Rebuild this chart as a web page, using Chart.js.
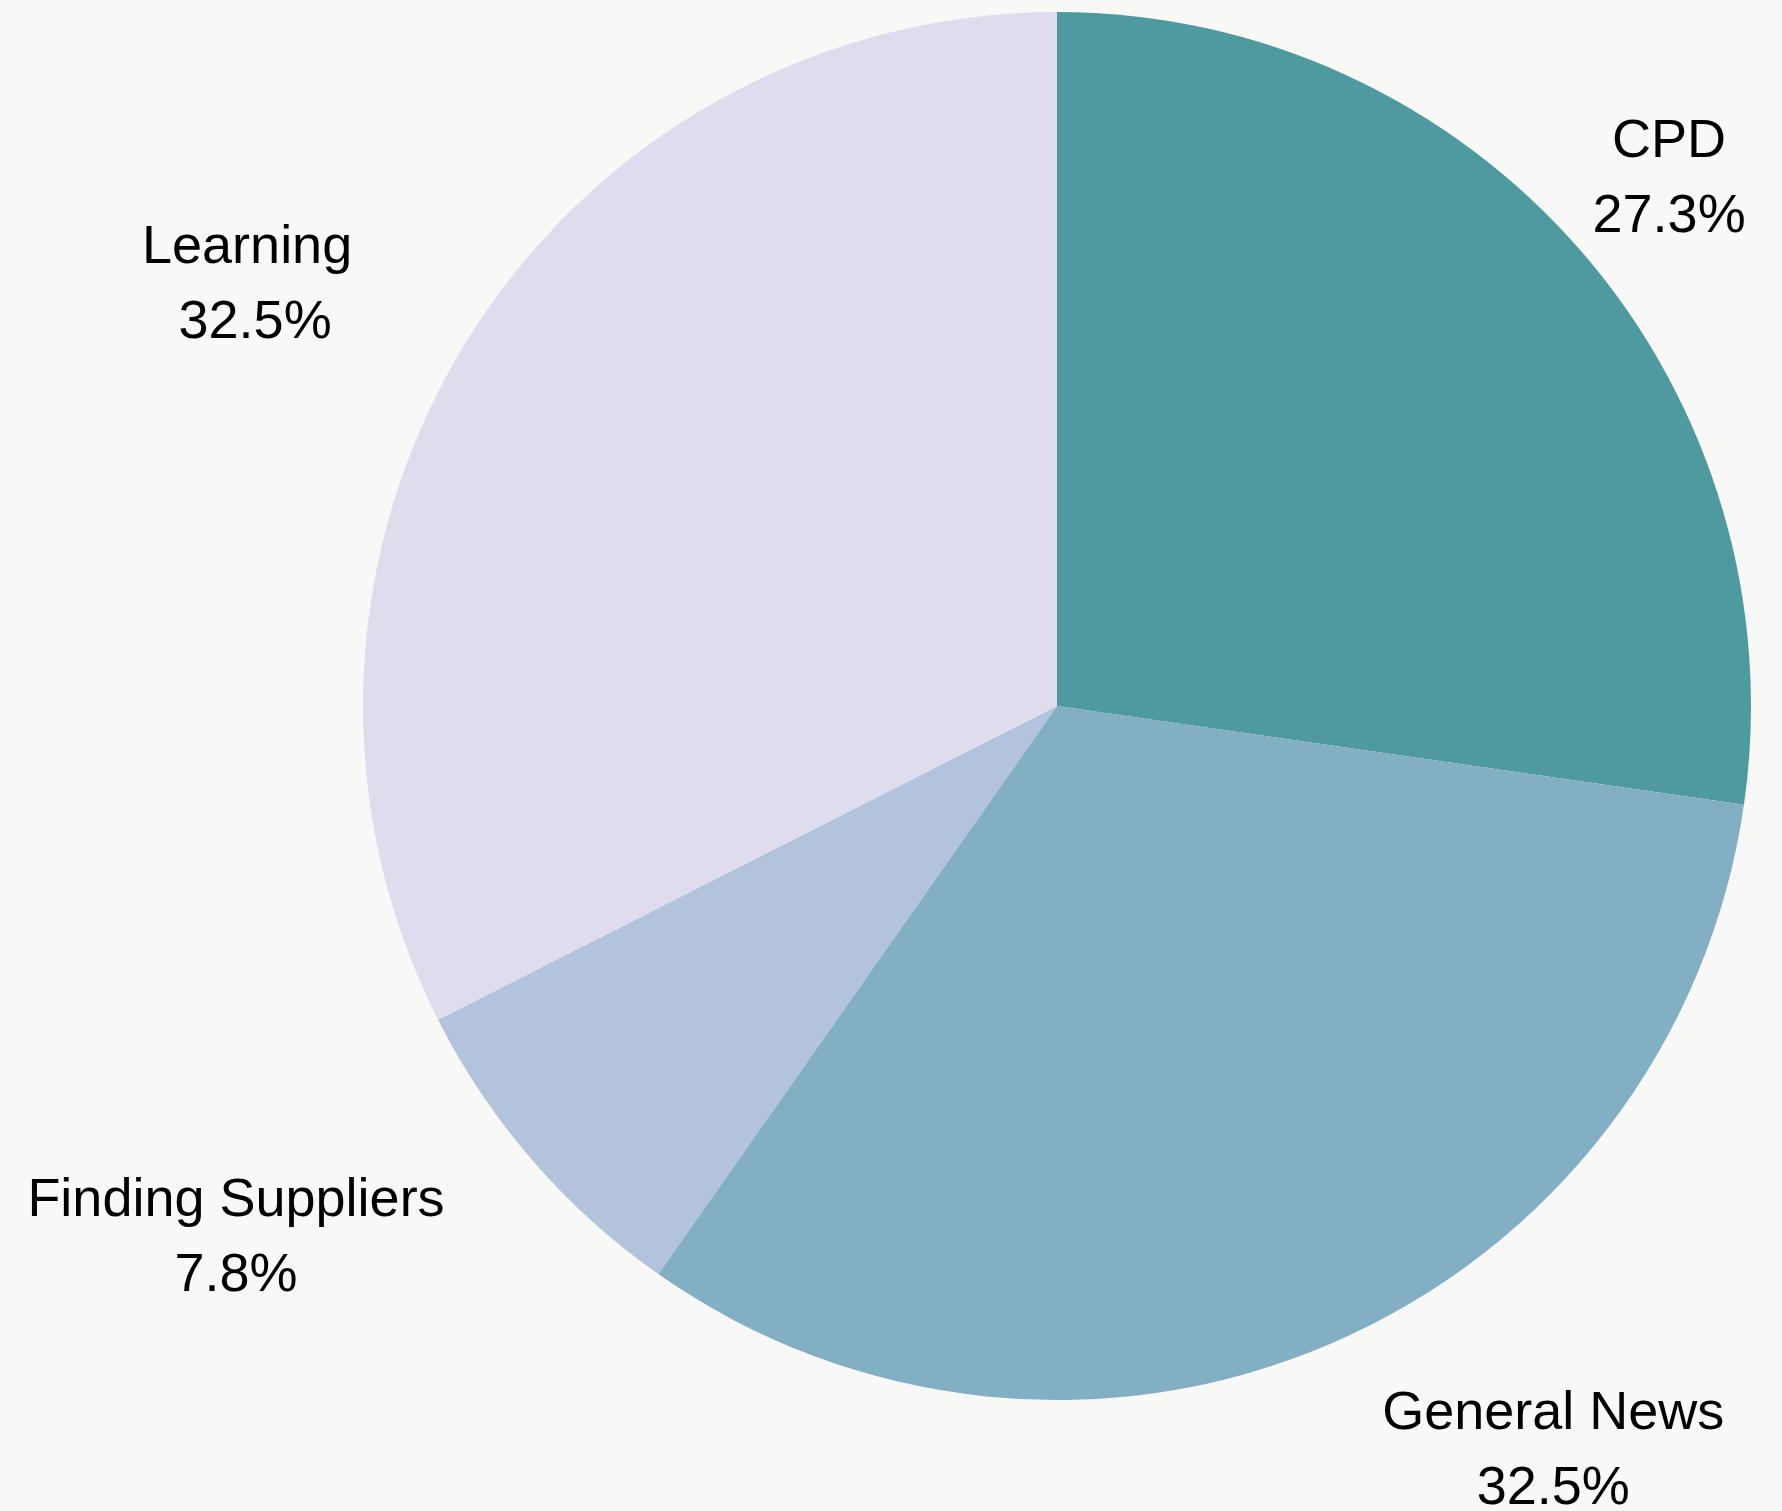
<!DOCTYPE html>
<html>
<head>
<meta charset="utf-8">
<script src="https://cdn.jsdelivr.net/npm/chart.js@4.4.0/dist/chart.umd.min.js"></script>
<style>
  html, body { margin: 0; padding: 0; background: #f8f8f6; }
  #wrap { width: 1782px; height: 1511px; }
</style>
</head>
<body>
<div id="wrap"><canvas id="c" width="1782" height="1511"></canvas></div>
<script>
// ---- data ----
const categories = ["CPD", "General News", "Finding Suppliers", "Learning"];
const shares = [27.3, 32.5, 7.8, 32.5];
const sliceColors = ["#4e9a9f", "#82afc4", "#b3c3dc", "#dfdced"];

// label block centres, in units of pie radius, relative to pie centre
const labelOffsets = [
  [0.882, -0.765],
  [0.715, 1.068],
  [-1.183, 0.762],
  [-1.167, -0.612]
];
// extra horizontal nudge (px) for the percentage line
const pctNudge = [0, 0, 0, 8];

const bgPlugin = {
  id: 'bg',
  beforeDraw(chart) {
    const ctx = chart.ctx;
    ctx.save();
    ctx.fillStyle = '#f8f8f6';
    ctx.fillRect(0, 0, chart.width, chart.height);
    ctx.restore();
  }
};

const labelPlugin = {
  id: 'pieLabels',
  afterDatasetsDraw(chart) {
    const ctx = chart.ctx;
    const meta = chart.getDatasetMeta(0);
    ctx.save();
    ctx.font = '54px "Liberation Sans", Arial, sans-serif';
    ctx.fillStyle = '#000000';
    ctx.textAlign = 'center';
    ctx.textBaseline = 'alphabetic';
    meta.data.forEach((arc, i) => {
      const r = arc.outerRadius;
      const cx = arc.x + labelOffsets[i][0] * r;
      const cy = arc.y + labelOffsets[i][1] * r;
      ctx.fillText(categories[i], cx, cy - 18.5);
      ctx.fillText(shares[i].toFixed(1) + '%', cx + pctNudge[i], cy + 56.5);
    });
    ctx.restore();
  }
};

new Chart(document.getElementById('c'), {
  type: 'pie',
  data: {
    labels: categories,
    datasets: [{
      data: shares,
      backgroundColor: sliceColors,
      borderWidth: 0,
      hoverOffset: 0
    }]
  },
  options: {
    responsive: false,
    devicePixelRatio: 1,
    animation: false,
    layout: { padding: { top: 12, bottom: 111, left: 363, right: 31 } },
    plugins: {
      legend: { display: false },
      tooltip: { enabled: false }
    }
  },
  plugins: [bgPlugin, labelPlugin]
});
</script>
</body>
</html>
